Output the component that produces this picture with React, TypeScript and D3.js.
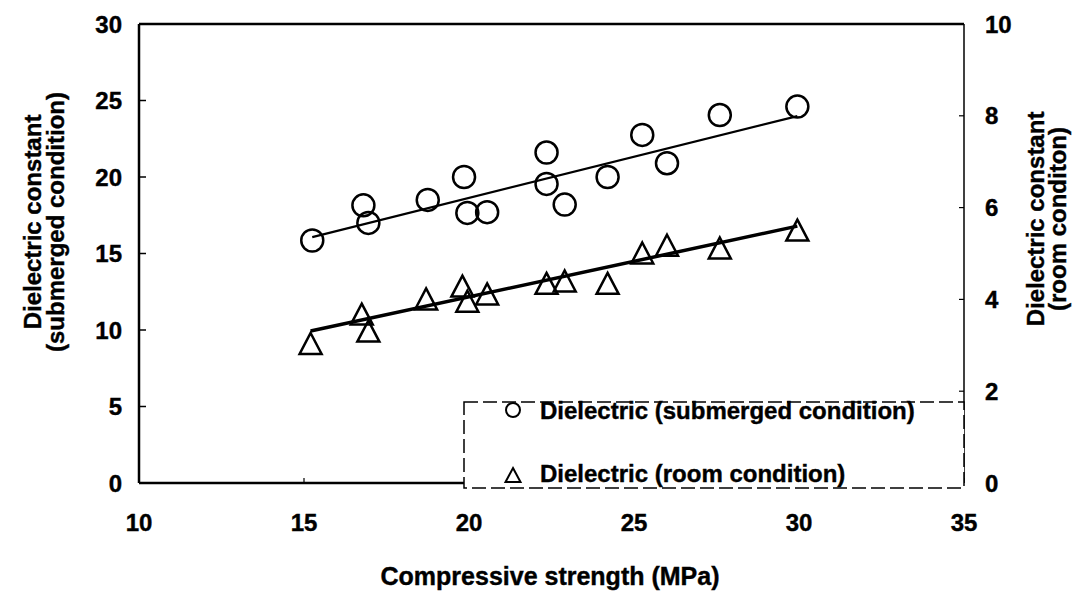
import React from "react";
import * as d3 from "d3";

// compressive strength (MPa) vs dielectric constant
const submergedX = [15.25, 16.8, 16.95, 18.75, 19.85, 19.95, 20.55, 22.35, 22.35, 22.9, 24.2, 25.25, 26.0, 27.6, 29.95];
const submergedY = [15.85, 18.15, 17.0, 18.5, 20.0, 17.65, 17.7, 21.6, 19.55, 18.2, 20.0, 22.75, 20.9, 24.05, 24.6];

const roomX = [15.2, 16.75, 16.95, 18.7, 19.8, 19.95, 20.55, 22.35, 22.9, 24.2, 25.25, 26.0, 27.6, 29.95];
const roomY = [3.04, 3.68, 3.31, 4.01, 4.29, 3.96, 4.12, 4.35, 4.4, 4.35, 5.01, 5.18, 5.12, 5.51];

// linear fits (intercept, slope)
const submergedFit = [7.87, 0.538];
const roomFit = [0.955, 0.155];

const xTicks = [10, 15, 20, 25, 30, 35];
const yLeftTicks = [0, 5, 10, 15, 20, 25, 30];
const yRightTicks = [0, 2, 4, 6, 8, 10];

const legendLabels = ["Dielectric (submerged condition)", "Dielectric (room condition)"];

const font = "'Liberation Sans', Arial, sans-serif";

export default function App() {
  const width = 1072;
  const height = 591;
  const left = 139;
  const right = 964;
  const top = 24;
  const bottom = 483;

  const x = d3.scaleLinear().domain([10, 35]).range([left, right]);
  const yL = d3.scaleLinear().domain([0, 30]).range([bottom, top]);
  const yR = d3.scaleLinear().domain([0, 10]).range([bottom, top]);

  const fitLine = (xs: number[], fit: number[], ys: d3.ScaleLinear<number, number>) => {
    const [a, b] = fit;
    const ext = d3.extent(xs) as [number, number];
    return d3
      .line<number>()
      .x((d) => x(d))
      .y((d) => ys(a + b * d))(ext);
  };

  const tri = (w: number, h: number) => `M0,${-h / 2}L${w / 2},${h / 2}L${-w / 2},${h / 2}Z`;

  const legX = 464;
  const legY = 402;
  const legW = right - legX;
  const legH = 86;

  const txt = { fontSize: 24, stroke: "#000", strokeWidth: 0.4 };

  return (
    <svg
      width={width}
      height={height}
      style={{ position: "absolute", left: 0, top: 0, background: "#fff" }}
      fontFamily={font}
      fontWeight="bold"
    >
      {/* frame */}
      <line x1={left} x2={right} y1={top} y2={top} stroke="#000" strokeWidth={2.5} />
      <line x1={left} x2={right} y1={bottom} y2={bottom} stroke="#000" strokeWidth={2.5} />
      <line x1={left} x2={left} y1={top} y2={bottom} stroke="#000" strokeWidth={2.5} />
      <line x1={right} x2={right} y1={top} y2={bottom} stroke="#000" strokeWidth={1.5} />

      {/* ticks */}
      {yLeftTicks.map((t) => (
        <g key={"yl" + t}>
          <line x1={left} x2={left + 7} y1={yL(t)} y2={yL(t)} stroke="#000" strokeWidth={1.5} />
          <text x={122} y={yL(t)} dy="0.36em" textAnchor="end" {...txt}>
            {t}
          </text>
        </g>
      ))}
      {yRightTicks.map((t) => (
        <g key={"yr" + t}>
          <line x1={right - 5} x2={right} y1={yR(t)} y2={yR(t)} stroke="#000" strokeWidth={1.2} />
          <text x={985} y={yR(t)} dy="0.36em" textAnchor="start" {...txt}>
            {t}
          </text>
        </g>
      ))}
      {xTicks.map((t) => (
        <g key={"x" + t}>
          <line x1={x(t)} x2={x(t)} y1={bottom} y2={bottom - 5} stroke="#000" strokeWidth={1.2} />
          <text x={x(t)} y={531} textAnchor="middle" {...txt}>
            {t}
          </text>
        </g>
      ))}

      {/* axis titles */}
      <text x={550} y={585} textAnchor="middle" {...txt} fontSize={25}>
        Compressive strength (MPa)
      </text>
      <g transform="translate(41,222) rotate(-90)">
        <text textAnchor="middle" {...txt}>Dielectric constant</text>
      </g>
      <g transform="translate(64,222) rotate(-90)">
        <text textAnchor="middle" {...txt}>(submerged condition)</text>
      </g>
      <g transform="translate(1044,219) rotate(-90)">
        <text textAnchor="middle" {...txt}>Dielectric constant</text>
      </g>
      <g transform="translate(1066,219) rotate(-90)">
        <text textAnchor="middle" {...txt}>(room conditon)</text>
      </g>

      {/* fit lines */}
      <path d={fitLine(submergedX, submergedFit, yL) || ""} fill="none" stroke="#000" strokeWidth={2.2} />
      <path d={fitLine(roomX, roomFit, yR) || ""} fill="none" stroke="#000" strokeWidth={3.5} />

      {/* points */}
      {submergedX.map((v, i) => (
        <circle key={"c" + i} cx={x(v)} cy={yL(submergedY[i])} r={11} fill="none" stroke="#000" strokeWidth={2.5} />
      ))}
      {roomX.map((v, i) => (
        <path
          key={"t" + i}
          transform={`translate(${x(v)},${yR(roomY[i])})`}
          d={tri(22, 21)}
          fill="none"
          stroke="#000"
          strokeWidth={2.5}
          strokeLinejoin="miter"
        />
      ))}

      {/* legend */}
      <rect
        x={legX}
        y={legY}
        width={legW}
        height={legH}
        fill="#fff"
        stroke="#000"
        strokeWidth={1.5}
        strokeDasharray="14 5"
      />
      <circle cx={513} cy={legY + 8} r={7} fill="none" stroke="#000" strokeWidth={2} />
      <path transform={`translate(513,${legY + 73})`} d={tri(15, 14)} fill="none" stroke="#000" strokeWidth={2} />
      <text x={540} y={legY + 8} dy="0.36em" {...txt}>
        {legendLabels[0]}
      </text>
      <text x={540} y={legY + 71} dy="0.36em" {...txt}>
        {legendLabels[1]}
      </text>
    </svg>
  );
}
